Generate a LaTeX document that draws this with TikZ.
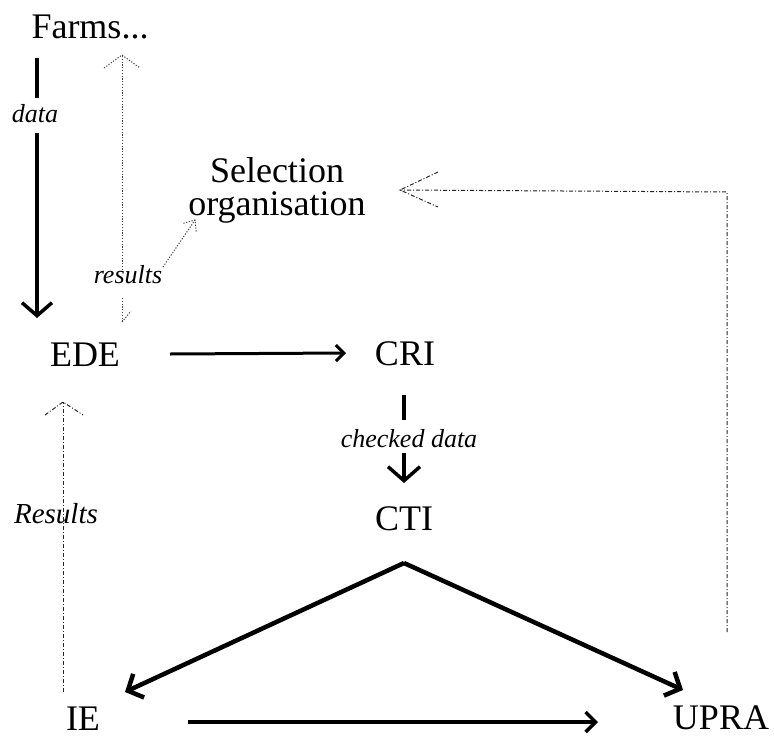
\documentclass[tikz,border=0pt]{standalone}
\usepackage{fontspec}
\setmainfont{Liberation Serif}
\usetikzlibrary{arrows.meta}
\begin{document}
\begin{tikzpicture}[x=1pt,y=-1pt,
  lbl/.style={anchor=base,inner sep=0pt,font=\fontsize{36}{40}\selectfont},
  sellbl/.style={anchor=base,inner sep=0pt,align=center,font=\fontsize{36}{33}\selectfont},
  itlbl/.style={anchor=base,inner sep=1pt,font=\fontsize{26}{28}\selectfont\itshape},
  solidarrow/.style={draw=black,line cap=butt},
  dotline/.style={draw=black!75,line width=1pt,dash pattern=on 1.2pt off 1.6pt},
  dashdot/.style={draw=black!85,line width=1pt,dash pattern=on 4pt off 2pt on 1pt off 2pt}
]
\useasboundingbox (0,0) rectangle (774,737);

% nodes
\node[lbl] (farms) at (90,38) {Farms...};
\node[sellbl] (selorg) at (277,215) {Selection\\organisation};
\node[lbl] (ede) at (85,366) {EDE};
\node[lbl] (cri) at (405,365) {CRI};
\node[lbl] (cti) at (404,530) {CTI};
\node[lbl] (ie) at (83,730) {IE};
\node[lbl] (upra) at (721,729) {UPRA};

% labels
\node[itlbl] (datalbl) at (35,122) {data};
\node[itlbl] (resultslbl) at (128,283) {results};
\node[itlbl] (checkedlbl) at (409,447) {checked data};
\node[itlbl,inner sep=0pt,font=\fontsize{29}{30}\selectfont\itshape] (Resultslbl) at (56,523) {Results};

% coordinates of connector ends
\coordinate (dataA) at (37,58);
\coordinate (dataB) at (37,98);
\coordinate (dataC) at (37,133);
\coordinate (dataT) at (37,318);
\coordinate (edeR) at (170,354);
\coordinate (criL) at (346,353);
\coordinate (criB) at (404,395);
\coordinate (chkA) at (404,420);
\coordinate (chkB) at (404,453);
\coordinate (ctiT) at (404,483);
\coordinate (apex) at (404,563);
\coordinate (ieT) at (125,692);
\coordinate (upraT) at (683,690);
\coordinate (ieR) at (188,722);
\coordinate (upraL) at (598,722);
\coordinate (resTop) at (122,270);
\coordinate (farmsB) at (122,55);
\coordinate (resBot) at (122,298);
\coordinate (resStub) at (122,322);
\coordinate (diagA) at (163,267);
\coordinate (diagT) at (195,220);
\coordinate (ieTop) at (63,692);
\coordinate (edeB) at (63,402);
\coordinate (upraTop) at (727,632);
\coordinate (corner) at (727,192);
\coordinate (selR) at (400,190);

% solid arrows
\draw[solidarrow,line width=3.5pt] (dataA) -- (dataB);
\draw[solidarrow,line width=3.5pt,-{Straight Barb[length=13pt,width=30pt]}] (dataC) -- (dataT);
\draw[solidarrow,line width=3pt,-{Straight Barb[length=8pt,width=16pt]}] (edeR) -- (criL);
\draw[solidarrow,line width=4pt] (criB) -- (chkA);
\draw[solidarrow,line width=3.5pt,-{Straight Barb[length=14pt,width=32pt]}] (chkB) -- (ctiT);
\draw[solidarrow,line width=4.5pt,-{Straight Barb[length=12pt,width=26pt]}] (apex) -- (ieT);
\draw[solidarrow,line width=4.5pt,-{Straight Barb[length=12pt,width=26pt]}] (apex) -- (upraT);
\draw[solidarrow,line width=3.5pt,-{Straight Barb[length=10pt,width=20pt]}] (ieR) -- (upraL);

% dotted arrows (results)
\draw[dotline] (resTop) -- (farmsB);
\draw[dotline] (104,68) -- (farmsB) -- (140,68);
\draw[dotline] (resBot) -- (resStub);
\draw[dotline] (resStub) -- (131,311);
\draw[dotline] (diagA) -- (diagT);
\draw[dotline] (183.4,223.3) -- (diagT) -- (196.2,231.9);

% dash-dot arrows
\draw[dashdot] (ieTop) -- (edeB);
\draw[dashdot] (45,415) -- (edeB) -- (83,415);
\draw[dashdot] (upraTop) -- (corner) -- (selR);
\draw[dashdot] (438,172) -- (selR) -- (438,207);
\end{tikzpicture}
\end{document}
